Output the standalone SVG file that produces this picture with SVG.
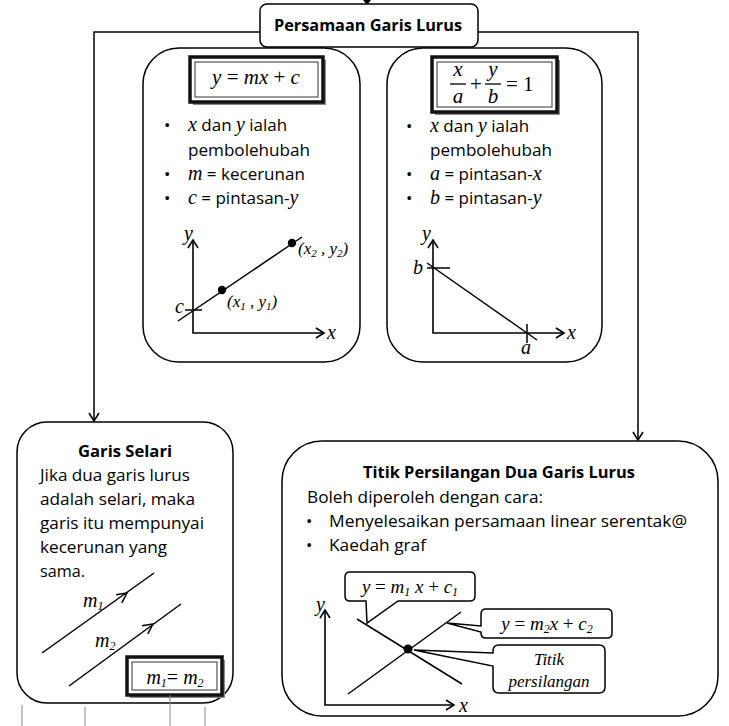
<svg xmlns="http://www.w3.org/2000/svg" width="729" height="726" viewBox="0 0 729 726">
<style>
.box{fill:#fff;stroke:#000;stroke-width:1.5}
.ln{fill:none;stroke:#000;stroke-width:1.5}
.ax{fill:none;stroke:#000;stroke-width:1.6}
.t{font-family:"Open Sans","Liberation Sans",sans-serif;font-size:17px;fill:#000}
.b{font-family:"Open Sans","Liberation Sans",sans-serif;font-size:16px;font-weight:bold;fill:#000}
.m{font-family:"Liberation Serif","DejaVu Serif",serif;font-style:italic;fill:#000}
.mr{font-family:"Liberation Serif","DejaVu Serif",serif;font-style:normal;fill:#000}
.fo{fill:#fff;stroke:#111;stroke-width:3.5}
.fi{fill:none;stroke:#333;stroke-width:1}
.sh{fill:#888}
.junk{stroke:#888;stroke-width:1}
</style>
<defs>
<marker id="open" markerWidth="12" markerHeight="12" refX="10" refY="6" orient="auto" markerUnits="userSpaceOnUse">
<path d="M2,1 L10,6 L2,11" fill="none" stroke="#000" stroke-width="1.6"/>
</marker>
</defs>

<g id="connectors">
<path class="ln" d="M367,0 V2"/>
<path d="M363,0 L371,0 L367,5 Z" fill="#000"/>
<path class="ln" d="M260,32 H94 V421" marker-end="url(#open)"/>
<path class="ln" d="M478,32 H638 V440" marker-end="url(#open)"/>
</g>

<g id="title">
<rect class="box" x="260" y="4" width="218" height="43" rx="7"/>
<text class="b" x="368" y="31" text-anchor="middle" textLength="188" lengthAdjust="spacingAndGlyphs">Persamaan Garis Lurus</text>
</g>

<g id="box-mxc">
<rect class="box" x="143" y="48" width="217" height="314" rx="36"/>
<rect class="sh" x="193" y="60" width="133" height="45"/>
<rect class="fo" x="190" y="57" width="133" height="45"/>
<rect class="fi" x="195" y="62" width="123" height="35"/>
<text class="m" x="256" y="84" font-size="21" text-anchor="middle">y <tspan class="mr">=</tspan> mx <tspan class="mr">+</tspan> c</text>
<g class="t">
<text x="164" y="131">•</text>
<text x="188" y="131"><tspan class="m" font-size="20">x</tspan> dan <tspan class="m" font-size="20">y</tspan> ialah</text>
<text x="188" y="156" textLength="122" lengthAdjust="spacingAndGlyphs">pembolehubah</text>
<text x="164" y="180">•</text>
<text x="188" y="180"><tspan class="m" font-size="20">m</tspan> = kecerunan</text>
<text x="164" y="204">•</text>
<text x="188" y="204"><tspan class="m" font-size="20">c</tspan>  = pintasan-<tspan class="m" font-size="20">y</tspan></text>
</g>
<path class="ax" d="M193,241 V333 H324"/>
<path class="ax" d="M188,248 L193,240 L198,248"/>
<path class="ax" d="M316,328 L324,333 L316,338"/>
<path class="ln" d="M178,321 L302,237"/>
<path class="ln" d="M185,310 H202"/>
<circle cx="222" cy="290" r="4.2" fill="#000"/>
<circle cx="292" cy="243" r="4.2" fill="#000"/>
<text class="m" x="184" y="240" font-size="20">y</text>
<text class="m" x="327" y="339" font-size="20">x</text>
<text class="m" x="175" y="313" font-size="20">c</text>
<text class="m" x="227" y="307" font-size="17">(x<tspan font-size="11" dy="3">1</tspan><tspan dy="-3"> , y</tspan><tspan font-size="11" dy="3">1</tspan><tspan dy="-3">)</tspan></text>
<text class="m" x="298" y="254" font-size="17">(x<tspan font-size="11" dy="3">2</tspan><tspan dy="-3"> , y</tspan><tspan font-size="11" dy="3">2</tspan><tspan dy="-3">)</tspan></text>
</g>

<g id="box-intercept">
<rect class="box" x="387" y="48" width="215" height="314" rx="36"/>
<rect class="sh" x="435" y="60" width="125" height="55"/>
<rect class="fo" x="432" y="57" width="125" height="55"/>
<rect class="fi" x="437" y="62" width="115" height="45"/>
<text class="m" x="458" y="76" font-size="21" text-anchor="middle">x</text>
<path d="M450,84 H466" stroke="#000" stroke-width="1.3"/>
<text class="m" x="458" y="103" font-size="21" text-anchor="middle">a</text>
<text class="mr" x="476" y="91" font-size="21" text-anchor="middle">+</text>
<text class="m" x="493" y="76" font-size="21" text-anchor="middle">y</text>
<path d="M485,84 H501" stroke="#000" stroke-width="1.3"/>
<text class="m" x="493" y="103" font-size="21" text-anchor="middle">b</text>
<text class="mr" x="506" y="91" font-size="21">= 1</text>
<g class="t">
<text x="406" y="132">•</text>
<text x="430" y="132"><tspan class="m" font-size="20">x</tspan> dan <tspan class="m" font-size="20">y</tspan> ialah</text>
<text x="430" y="156" textLength="122" lengthAdjust="spacingAndGlyphs">pembolehubah</text>
<text x="406" y="180">•</text>
<text x="430" y="180"><tspan class="m" font-size="20">a</tspan> = pintasan-<tspan class="m" font-size="20">x</tspan></text>
<text x="406" y="204">•</text>
<text x="430" y="204"><tspan class="m" font-size="20">b</tspan> = pintasan-<tspan class="m" font-size="20">y</tspan></text>
</g>
<path class="ax" d="M433,241 V333 H564"/>
<path class="ax" d="M428,248 L433,240 L438,248"/>
<path class="ax" d="M556,328 L564,333 L556,338"/>
<path class="ln" d="M427,263 L537,340"/>
<path class="ln" d="M427,268 H450"/>
<path class="ln" d="M527,324 V343"/>
<text class="m" x="422" y="240" font-size="20">y</text>
<text class="m" x="567" y="339" font-size="20">x</text>
<text class="m" x="413" y="274" font-size="20">b</text>
<text class="m" x="521" y="354" font-size="20">a</text>
</g>

<g id="box-selari">
<rect class="box" x="17" y="422" width="216" height="281" rx="30"/>
<text class="b" x="125" y="457" text-anchor="middle" textLength="94" lengthAdjust="spacingAndGlyphs">Garis Selari</text>
<g class="t">
<text x="40" y="481" textLength="150" lengthAdjust="spacingAndGlyphs">Jika dua garis lurus</text>
<text x="40" y="505" textLength="155" lengthAdjust="spacingAndGlyphs">adalah selari, maka</text>
<text x="40" y="529" textLength="164" lengthAdjust="spacingAndGlyphs">garis itu mempunyai</text>
<text x="40" y="553" textLength="127" lengthAdjust="spacingAndGlyphs">kecerunan yang</text>
<text x="40" y="577" textLength="45" lengthAdjust="spacingAndGlyphs">sama.</text>
</g>
<path class="ln" d="M42,653 L154,573"/>
<path class="ln" d="M116,594.7 L127,593 L121.8,602.9"/>
<path class="ln" d="M69,686 L181,604"/>
<path class="ln" d="M142,625.7 L153,624 L147.8,633.9"/>
<text class="m" x="83" y="607" font-size="20">m<tspan font-size="12" dy="3">1</tspan></text>
<text class="m" x="95" y="647" font-size="20">m<tspan font-size="12" dy="3">2</tspan></text>
<rect class="sh" x="130" y="660" width="95" height="38"/>
<rect class="fo" x="127" y="657" width="95" height="38"/>
<rect class="fi" x="132" y="662" width="85" height="28"/>
<text class="m" x="175" y="684" font-size="20" text-anchor="middle">m<tspan font-size="12" dy="3">1</tspan><tspan class="mr" dy="-3">=</tspan> m<tspan font-size="12" dy="3">2</tspan></text>
</g>

<g id="box-persilangan">
<rect class="box" x="282" y="441" width="436" height="275" rx="40"/>
<text class="b" x="499" y="478" text-anchor="middle" textLength="272" lengthAdjust="spacingAndGlyphs">Titik Persilangan Dua Garis Lurus</text>
<g class="t">
<text x="307" y="503" textLength="236" lengthAdjust="spacingAndGlyphs">Boleh diperoleh dengan cara:</text>
<text x="306" y="527">•</text>
<text x="329" y="527" textLength="358" lengthAdjust="spacingAndGlyphs">Menyelesaikan persamaan linear serentak@</text>
<text x="306" y="551">•</text>
<text x="329" y="551" textLength="97" lengthAdjust="spacingAndGlyphs">Kaedah graf</text>
</g>
<path class="ax" d="M325,611 V705 H454"/>
<path class="ax" d="M320,618 L325,610 L330,618"/>
<path class="ax" d="M446,700 L454,705 L446,710"/>
<text class="m" x="316" y="611" font-size="20">y</text>
<text class="m" x="459" y="712" font-size="20">x</text>
<path class="ln" d="M357,619 L462,684"/>
<path class="ln" d="M348,694 L461,612"/>
<circle cx="408" cy="649" r="4.5" fill="#000"/>
<path class="box" d="M350,572 H470 Q475,572 475,577 V596 Q475,601 470,601 H398 L367,623 L366,601 H350 Q345,601 345,596 V577 Q345,572 350,572 Z"/>
<text class="m" x="410" y="593" font-size="19" text-anchor="middle">y <tspan class="mr">=</tspan> m<tspan font-size="12" dy="3">1</tspan><tspan dy="-3"> x </tspan><tspan class="mr">+</tspan> c<tspan font-size="12" dy="3">1</tspan></text>
<path class="box" d="M486,609 H607 Q612,609 612,614 V633 Q612,638 607,638 H486 Q481,638 481,633 V632 L447,623 L481,626 V614 Q481,609 486,609 Z"/>
<text class="m" x="547" y="630" font-size="19" text-anchor="middle">y <tspan class="mr">=</tspan> m<tspan font-size="12" dy="3">2</tspan><tspan dy="-3">x </tspan><tspan class="mr">+</tspan> c<tspan font-size="12" dy="3">2</tspan></text>
<path class="box" d="M499,645 H599 Q605,645 605,651 V687 Q605,693 599,693 H499 Q493,693 493,687 V666 L414,650 L493,653 V651 Q493,645 499,645 Z"/>
<text class="m" x="549" y="665" font-size="17" text-anchor="middle">Titik</text>
<text class="m" x="549" y="687" font-size="17" text-anchor="middle">persilangan</text>
</g>

<g id="edge-marks">
<path class="junk" d="M22,705 V726 M85,707 V726 M170,695 V726 M205,707 V726"/>
</g>
</svg>
